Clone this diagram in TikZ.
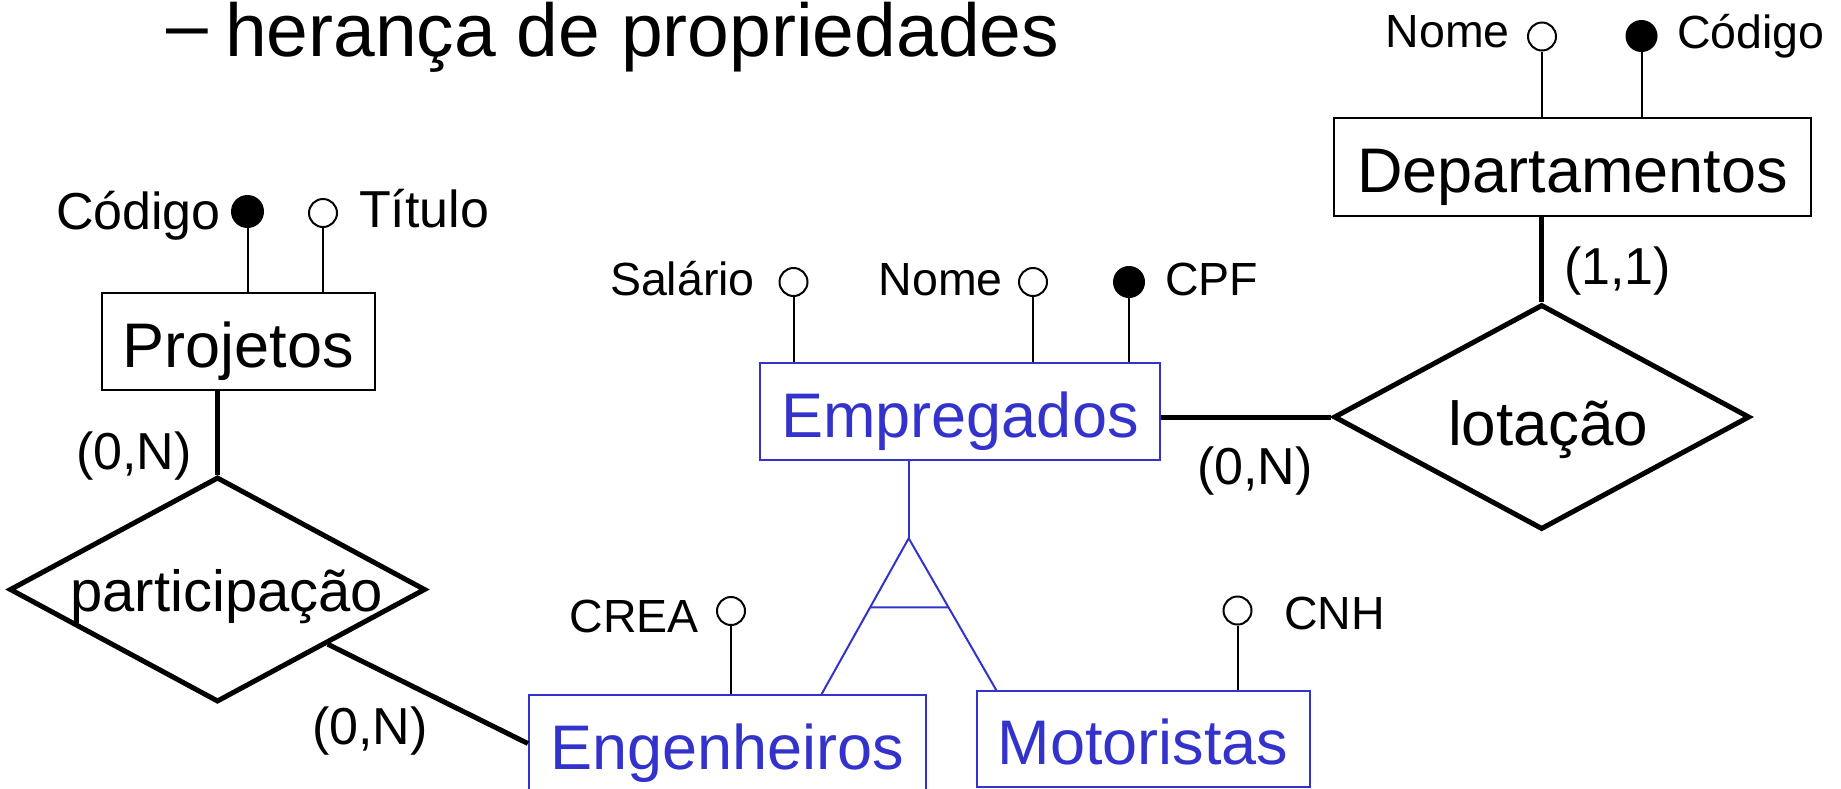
\documentclass[tikz,border=0pt]{standalone}
\usepackage{fontspec}
\setmainfont{Liberation Sans}
\usetikzlibrary{shapes.geometric,calc}
\definecolor{erblue}{RGB}{51,51,204}
\newcommand\fEnt{\fontsize{63}{70}\selectfont}
\newcommand\fRel{\fontsize{62}{70}\selectfont}
\newcommand\fPart{\fontsize{58}{64}\selectfont}
\newcommand\fAtt{\fontsize{46.5}{52}\selectfont}
\newcommand\fAttL{\fontsize{52}{58}\selectfont}
\newcommand\fCard{\fontsize{52}{58}\selectfont}
\newcommand\fTitle{\fontsize{75}{80}\selectfont}
\begin{document}
\begin{tikzpicture}[x=1pt,y=-1pt,
  entity/.style={draw, line width=2pt, inner sep=0pt, text height=51pt, text depth=0pt, font=\fEnt},
  blueent/.style={entity, draw=erblue, text=erblue},
  rel/.style={diamond, draw, line width=5pt, inner sep=0pt, minimum width=416pt, minimum height=225pt},
  attr/.style={circle, draw, line width=2pt, inner sep=0pt, minimum size=28pt, fill=white},
  key/.style={attr, fill=black, minimum size=30pt},
  attrline/.style={line width=2pt},
  relline/.style={line width=5pt},
  isa/.style={draw=erblue, line width=2pt},
  lbl/.style={inner sep=0pt, font=\fAtt},
  lblL/.style={inner sep=0pt, font=\fAttL},
  card/.style={inner sep=0pt, font=\fCard}]
\useasboundingbox (0,0) rectangle (1841,788);

% title
\node[inner sep=0pt, font=\fTitle, anchor=base west] (tdash) at (166,50) {–};
\node[inner sep=0pt, font=\fTitle, anchor=base west] (title) at (225,56) {herança de propriedades};

% entities
\node[entity, minimum width=477pt, minimum height=98pt] (dep) at (1572.5,167) {Departamentos};
\node[entity, minimum width=273pt, minimum height=97pt] (proj) at (238.5,341.5) {Projetos};
\node[blueent, minimum width=400pt, minimum height=97pt] (emp) at (960,411.5) {Empregados};
\node[blueent, minimum width=397pt, minimum height=97pt] (eng) at (727.4,743.5) {Engenheiros};
\node[blueent, minimum width=333pt, minimum height=96pt] (mot) at (1143,739) {Motoristas};

% relationships
\node[rel] (lot) at (1541.7,417) {};
\node[inner sep=0pt, font=\fRel, anchor=base] (lott) at (1548,445) {lotação};
\node[rel] (part) at (217.5,589.5) {};
\node[inner sep=0pt, font=\fPart, anchor=base] (partt) at (226.7,611.7) {participação};

\draw[relline] (lot.north |- dep.south) -- (lot.north);
\draw[relline] (lot.west) -- (lot.west -| emp.east);
\draw[relline] (part.north |- proj.south) -- (part.north);
\draw[relline] (part) -- (eng.west);

% cardinalities
\node[card, anchor=base west] (c11) at (1564,284) {(1,1)};
\node[card, anchor=base west] (c0n1) at (76,469) {(0,N)};
\node[card, anchor=base east] (c0n2) at (1313,484) {(0,N)};
\node[card, anchor=base west] (c0n3) at (312,744) {(0,N)};

% specialization
\coordinate (apex) at (908.7,538.3);
\coordinate (lfoot) at (821.5,694.3);
\coordinate (rfoot) at (996.6,690.7);
\draw[isa] (apex |- emp.south) -- (apex);
\draw[isa] (lfoot) -- (apex) -- (rfoot);
\draw[isa] ($(apex)!0.442!(lfoot)$) -- ($(apex)!0.453!(rfoot)$);

% attributes of Departamentos
\node[attr] (dnome) at (1542,36.5) {};
\node[key] (dcod) at (1641.5,36) {};
\draw[attrline] (dnome) -- (dnome |- dep.north);
\draw[attrline] (dcod) -- (dcod |- dep.north);
\node[lbl, anchor=base east] (dnomet) at (1510,47) {Nome};
\node[lbl, anchor=base west] (dcodt) at (1677,48) {Código};

% attributes of Projetos
\node[key, minimum size=31pt] (pcod) at (247.5,211.5) {};
\node[attr] (ptit) at (323,213) {};
\draw[attrline] (pcod) -- (pcod |- proj.north);
\draw[attrline] (ptit) -- (ptit |- proj.north);
\node[lblL, anchor=base east] (pcodt) at (221,229) {Código};
\node[lblL, anchor=base west] (ptitt) at (359,227) {Título};

% attributes of Empregados
\node[attr] (esal) at (793.5,282) {};
\node[attr] (enome) at (1033,282) {};
\node[key] (ecpf) at (1129,282) {};
\draw[attrline] (esal) -- (esal |- emp.north);
\draw[attrline] (enome) -- (enome |- emp.north);
\draw[attrline] (ecpf) -- (ecpf |- emp.north);
\node[lbl, anchor=base east] (esalt) at (755,295) {Salário};
\node[lbl, anchor=base east] (enomet) at (1003,295) {Nome};
\node[lbl, anchor=base west] (ecpft) at (1165,295) {CPF};

% attributes of subclasses
\node[attr] (crea) at (731,611) {};
\draw[attrline] (crea) -- (crea |- eng.north);
\node[lbl, anchor=base east] (creat) at (699,632) {CREA};
\node[attr] (cnh) at (1237.5,610.5) {};
\draw[attrline] (cnh) -- (cnh |- mot.north);
\node[lbl, anchor=base west] (cnht) at (1284,629) {CNH};
\end{tikzpicture}
\end{document}
